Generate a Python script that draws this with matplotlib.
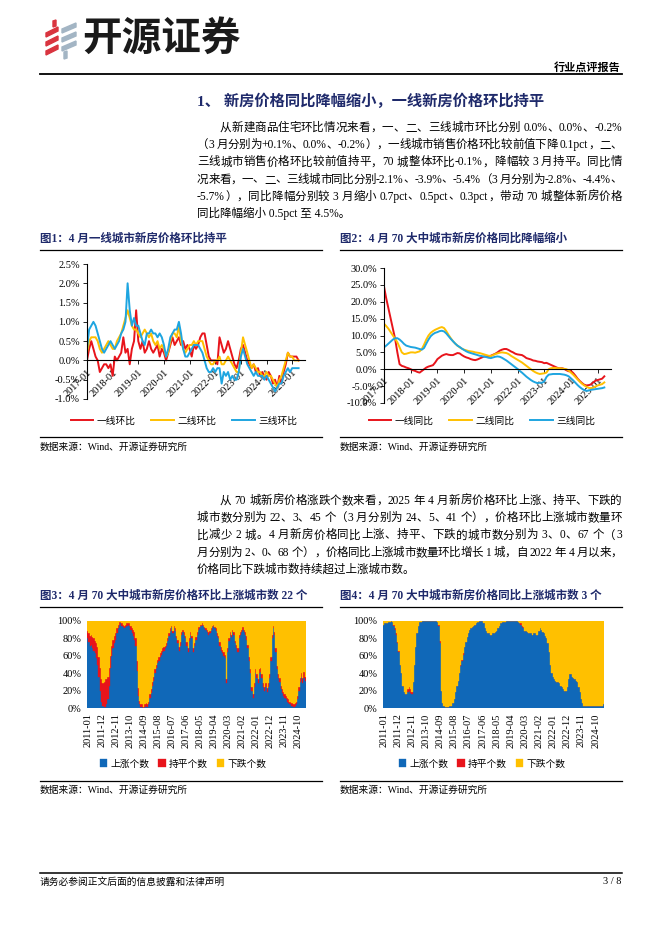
import re
import numpy as np
import matplotlib
matplotlib.use('Agg')
import matplotlib.pyplot as plt
from matplotlib.patches import Polygon, Patch
from matplotlib.lines import Line2D
from matplotlib.ticker import FuncFormatter

plt.rcParams['font.family'] = ['Liberation Serif', 'Noto Sans CJK SC']
plt.rcParams['axes.unicode_minus'] = False

W, H = 662, 936
NAVY = '#1f2a6b'
RED = '#e8141b'
GOLD = '#ffc000'
SKY = '#1ea5e0'
BLUE = '#1068b8'

# ---- chart 1: 环比 (%), 2017-01 .. 2025-04
years = ['2017-01', '2018-01', '2019-01', '2020-01', '2021-01',
         '2022-01', '2023-01', '2024-01', '2025-01']
hb_t1 = [0.0, 0.3, 0.5, 0.3, 0.1, 0.0, -0.3, -0.2, -0.1, -0.1, -0.2, -0.1,
         -0.4, 0.1, 0.0, 0.1, 0.2, 0.6, 0.2, 0.3, -0.1, 0.3, 0.5, 1.3,
         0.5, 0.3, 0.5, 0.2, 0.3, 0.5, 0.3, 0.2, 0.3, 0.4, 0.1, 0.3,
         0.2, 0.0, 0.2, 0.4, 0.6, 0.4, 0.5, 0.6, 0.4, 0.5, 0.3, 0.4,
         0.3, 0.1, 0.4, 0.3, 0.4, 0.6, 0.7, 0.7, 0.4, 0.1, 0.0, 0.0,
         0.0, -0.1, 0.6, 0.4, 0.2, 0.3, 0.5, 0.3, 0.1, -0.1, -0.2, 0.0,
         0.3, 0.4, 0.2, 0.0, -0.1, -0.2, -0.1, -0.3, -0.2, -0.4, -0.3, -0.4,
         -0.5, -0.3, -0.4, -0.6, -0.5, -0.7, -0.4, -0.6, -0.3, -0.1, 0.2, 0.1,
         0.1, 0.1, 0.1, 0.0]
hb_t2 = [0.2, 0.5, 0.6, 0.6, 0.6, 0.5, 0.3, 0.2, 0.3, 0.4, 0.5, 0.4,
         0.3, 0.3, 0.5, 0.6, 0.7, 0.9, 1.1, 1.3, 1.1, 0.9, 0.8, 0.8,
         0.7, 0.6, 0.7, 0.8, 0.7, 0.6, 0.7, 0.5, 0.4, 0.5, 0.3, 0.4,
         0.3, 0.1, 0.2, 0.5, 0.7, 0.7, 0.6, 0.9, 0.5, 0.3, 0.2, 0.3,
         0.4, 0.4, 0.5, 0.4, 0.5, 0.5, 0.5, 0.3, 0.1, 0.0, -0.1, -0.1,
         0.0, 0.0, 0.1, -0.1, -0.1, 0.0, 0.1, 0.0, -0.1, -0.2, -0.3, -0.3,
         0.2, 0.6, 0.4, 0.2, 0.0, -0.2, -0.1, -0.2, -0.3, -0.3, -0.4, -0.4,
         -0.3, -0.4, -0.4, -0.5, -0.6, -0.7, -0.5, -0.4, -0.2, 0.0, 0.2, 0.1,
         0.1, 0.0, 0.0, 0.0]
hb_t3 = [0.3, 0.8, 0.9, 1.0, 0.9, 0.7, 0.5, 0.3, 0.2, 0.3, 0.4, 0.5,
         0.4, 0.3, 0.4, 0.5, 0.7, 0.8, 1.0, 2.0, 1.3, 0.9, 1.1, 0.9,
         0.9, 0.7, 0.5, 0.4, 0.7, 0.7, 0.8, 0.7, 0.7, 0.6, 0.7, 0.6,
         0.4, 0.1, 0.3, 0.6, 0.7, 0.8, 0.8, 1.0, 0.7, 0.3, 0.1, 0.1,
         0.2, 0.3, 0.4, 0.4, 0.4, 0.3, 0.2, 0.0, -0.2, -0.3, -0.3, -0.2,
         -0.3, -0.2, -0.2, -0.6, -0.3, -0.4, -0.3, -0.5, -0.4, -0.5, -0.5, -0.3,
         0.1, 0.3, 0.1, -0.1, -0.2, -0.3, -0.4, -0.3, -0.4, -0.4, -0.4, -0.5,
         -0.4, -0.5, -0.6, -0.7, -0.8, -0.7, -0.6, -0.6, -0.4, -0.3, -0.2, -0.3,
         -0.2, -0.2, -0.2, -0.2]

# ---- chart 2: 同比 (%)
tb_t1 = [24.5, 21.0, 18.0, 15.0, 12.0, 9.0, 5.0, 1.5, 1.0, 0.8, 0.5, 0.3,
         0.0, -0.3, -0.5, -0.8, -1.0, -0.5, 0.0, 0.5, 0.8, 1.0, 1.2, 2.0,
         3.0, 3.5, 4.0, 4.3, 4.5, 4.3, 4.2, 4.2, 4.5, 4.8, 4.7, 4.2,
         3.8, 3.5, 3.3, 3.0, 2.8, 2.7, 2.9, 3.2, 3.5, 3.8, 3.8, 3.9,
         4.0, 4.3, 4.6, 5.0, 5.5, 5.8, 6.0, 6.0, 5.7, 5.3, 5.0, 4.6,
         4.4, 4.3, 4.2, 3.8, 3.3, 3.1, 2.9, 2.6, 2.5, 2.3, 2.2, 2.1,
         1.8, 1.9, 1.6, 1.3, 1.0, 0.7, 0.4, 0.3, 0.3, 0.1, -0.3, -0.6,
         -0.5, -1.1, -1.9, -2.8, -3.5, -4.1, -4.6, -4.8, -4.7, -4.5, -3.9, -3.4,
         -3.2, -3.0, -2.8, -2.1]
tb_t2 = [13.5, 12.8, 12.0, 11.0, 10.0, 9.0, 8.0, 6.5, 5.0, 4.5, 4.6, 4.8,
         5.0, 5.0, 4.9, 5.1, 5.3, 6.0, 7.3, 8.8, 10.0, 10.8, 11.3, 11.7,
         12.0, 12.3, 12.5, 12.2, 11.3, 10.2, 9.2, 8.3, 7.6, 7.0, 6.5, 6.1,
         5.8, 5.6, 5.4, 5.3, 5.2, 5.0, 4.9, 4.8, 4.6, 4.4, 4.2, 4.0,
         3.9, 4.2, 4.5, 4.7, 4.9, 5.0, 4.9, 4.8, 4.5, 4.0, 3.6, 3.2,
         2.8, 2.4, 2.0, 1.5, 1.0, 0.5, 0.0, -0.5, -0.9, -1.2, -1.4, -1.3,
         -1.2, -1.0, 0.0, 0.3, 0.4, 0.4, 0.3, 0.3, 0.2, 0.1, 0.0, -0.4,
         -1.0, -1.6, -2.3, -3.0, -3.7, -4.3, -4.8, -5.2, -5.5, -5.6, -5.5, -5.1,
         -4.8, -4.6, -4.4, -3.9]
tb_t3 = [6.5, 7.0, 7.6, 8.2, 8.8, 9.2, 9.2, 8.8, 8.2, 7.5, 7.0, 6.8,
         6.6, 6.5, 6.4, 6.2, 6.0, 5.8, 6.3, 7.6, 8.8, 9.8, 10.4, 10.8,
         11.0, 11.3, 11.4, 11.2, 10.6, 9.8, 9.0, 8.3, 7.6, 7.0, 6.6, 6.1,
         5.7, 5.3, 5.0, 4.8, 4.6, 4.4, 4.2, 4.0, 3.9, 3.7, 3.6, 3.4,
         3.3, 3.5, 3.7, 3.8, 3.7, 3.4, 3.0, 2.6, 2.1, 1.6, 1.1, 0.6,
         0.1, -0.5, -1.0, -1.6, -2.2, -2.7, -3.2, -3.6, -3.9, -4.1, -4.0, -4.0,
         -3.6, -2.3, -1.6, -1.5, -1.4, -1.4, -1.4, -1.4, -1.5, -1.6, -1.8, -2.1,
         -2.7, -3.3, -4.0, -4.7, -5.3, -5.8, -6.2, -6.4, -6.3, -6.1, -6.0, -5.9,
         -5.8, -5.7, -5.6, -5.4]

# ---- charts 3/4: city counts out of 70, 2011-01 .. 2025-04
bar_ticks = ['2011-01', '2011-12', '2012-11', '2013-10', '2014-09', '2015-08',
             '2016-07', '2017-06', '2018-05', '2019-04', '2020-03', '2021-02',
             '2022-01', '2022-12', '2023-11', '2024-10']
hb_up = [56, 53, 50, 51, 48, 46, 44, 40, 35, 25, 14, 5,
         2, 1, 1, 3, 7, 18, 32, 42, 48, 52, 55, 60,
         64, 67, 68, 66, 65, 64, 65, 66, 67, 66, 63, 60,
         58, 55, 50, 30, 10, 3, 1, 1, 0, 1, 2, 1,
         3, 8, 12, 18, 22, 28, 32, 36, 38, 41, 43, 45,
         46, 48, 50, 54, 58, 62, 65, 60, 64, 62, 56, 52,
         46, 50, 59, 61, 59, 56, 50, 45, 54, 59, 56, 45,
         50, 55, 59, 63, 64, 66, 67, 66, 64, 63, 61, 59,
         60, 63, 65, 66, 64, 62, 58, 56, 50, 46, 44, 42,
         40, 20, 45, 54, 59, 57, 61, 59, 52, 48, 45, 56,
         59, 61, 63, 61, 59, 55, 48, 38, 28, 14, 8, 17,
         28, 24, 20, 28, 29, 24, 17, 14, 17, 13, 17, 24,
         38, 56, 64, 59, 45, 31, 24, 21, 15, 12, 10, 8,
         7, 5, 4, 3, 2, 2, 1, 2, 3, 7, 14, 21,
         25, 20, 24, 22]
hb_flat = [6, 7, 8, 8, 9, 10, 10, 12, 14, 16, 18, 18,
           18, 20, 22, 20, 18, 14, 10, 8, 7, 6, 5, 4,
           3, 2, 1, 2, 2, 2, 2, 2, 1, 2, 3, 4,
           5, 6, 6, 8, 6, 3, 2, 2, 1, 2, 2, 2,
           2, 3, 3, 3, 3, 3, 3, 3, 3, 3, 3, 3,
           3, 2, 2, 2, 2, 2, 1, 2, 2, 2, 2, 3,
           3, 3, 2, 2, 2, 2, 3, 3, 2, 2, 2, 3,
           2, 2, 2, 2, 1, 1, 1, 1, 1, 1, 2, 2,
           2, 1, 1, 1, 1, 2, 2, 2, 3, 3, 3, 3,
           3, 3, 3, 2, 2, 2, 2, 2, 2, 3, 3, 3,
           2, 2, 2, 2, 2, 3, 3, 3, 3, 3, 3, 3,
           3, 3, 3, 3, 3, 3, 3, 3, 3, 3, 3, 3,
           3, 3, 2, 2, 3, 3, 3, 3, 3, 3, 3, 3,
           3, 3, 3, 2, 2, 2, 2, 2, 2, 3, 3, 3,
           3, 4, 5, 3]
tb_up = [67, 68, 68, 68, 69, 69, 70, 69, 66, 63, 59, 52,
         45, 35, 28, 18, 13, 11, 11, 13, 14, 12, 11, 21,
         35, 49, 60, 66, 69, 69, 70, 70, 70, 70, 70, 70,
         70, 70, 70, 70, 70, 70, 69, 66, 52, 14, 4, 2,
         1, 1, 1, 2, 2, 2, 4, 7, 13, 18, 22, 28,
         34, 38, 43, 49, 53, 57, 60, 63, 64, 65, 66, 67,
         68, 69, 69, 70, 70, 70, 68, 64, 62, 60, 60, 59,
         59, 60, 60, 61, 62, 64, 66, 68, 68, 69, 69, 69,
         70, 70, 70, 70, 70, 70, 70, 70, 70, 69, 68, 67,
         65, 64, 62, 62, 61, 60, 60, 60, 59, 60, 60, 59,
         59, 62, 64, 63, 61, 60, 58, 56, 52, 45, 35, 28,
         25, 23, 22, 21, 21, 20, 18, 17, 15, 14, 14, 17,
         23, 27, 27, 25, 24, 23, 22, 21, 17, 13, 7, 4,
         2, 2, 2, 2, 2, 2, 2, 2, 2, 2, 2, 2,
         2, 2, 2, 3]
tb_flat = [0, 0, 0, 0, 0, 0, 0, 0, 1, 1, 1, 1,
           1, 0, 0, 0, 0, 0, 0, 2, 3, 3, 2, 0,
           0, 0, 0, 0, 0, 0, 0, 0, 0, 0, 0, 0,
           0, 0, 0, 0, 0, 0, 0, 1, 2, 0, 0, 0,
           0, 0, 0, 0, 0, 0, 0, 0, 0, 0, 0, 0,
           1, 1, 1, 0, 0, 0, 0, 0, 0, 0, 0, 0,
           0, 0, 0, 0, 0, 0, 0, 0, 0, 0, 0, 0,
           0, 0, 0, 0, 0, 0, 0, 0, 0, 0, 0, 0,
           0, 0, 0, 0, 0, 0, 0, 0, 0, 0, 0, 1,
           1, 1, 0, 0, 0, 0, 0, 0, 0, 0, 0, 0,
           0, 0, 0, 0, 0, 0, 0, 0, 0, 0, 0, 0,
           0, 0, 0, 0, 0, 0, 0, 0, 0, 0, 0, 0,
           0, 0, 0, 0, 0, 0, 0, 0, 0, 0, 0, 0,
           0, 0, 0, 0, 0, 0, 0, 0, 0, 0, 0, 0,
           0, 0, 0, 0]
CITIES = 70

para1 = ['从新建商品住宅环比情况来看，一、二、三线城市环比分别 0.0%、0.0%、-0.2%',
         '（3 月分别为+0.1%、0.0%、-0.2%），一线城市销售价格环比较前值下降 0.1pct，二、',
         '三线城市销售价格环比较前值持平，70 城整体环比-0.1%，降幅较 3 月持平。同比情',
         '况来看，一、二、三线城市同比分别-2.1%、-3.9%、-5.4%（3 月分别为-2.8%、-4.4%、',
         '-5.7%），同比降幅分别较 3 月缩小 0.7pct、0.5pct、0.3pct，带动 70 城整体新房价格',
         '同比降幅缩小 0.5pct 至 4.5%。']
para2 = ['从 70 城新房价格涨跌个数来看，2025 年 4 月新房价格环比上涨、持平、下跌的',
         '城市数分别为 22、3、45 个（3 月分别为 24、5、41 个），价格环比上涨城市数量环',
         '比减少 2 城。4 月新房价格同比上涨、持平、下跌的城市数分别为 3、0、67 个（3',
         '月分别为 2、0、68 个），价格同比上涨城市数量环比增长 1 城，自 2022 年 4 月以来，',
         '价格同比下跌城市数持续超过上涨城市数。']

fig = plt.figure(figsize=(W / 100, H / 100), dpi=100)
renderer = fig.canvas.get_renderer()


def fx(x):
    return x / W


def fy(y):
    return 1 - y / H


def box(x0, y0, x1, y1):
    return [fx(x0), fy(y1), (x1 - x0) / W, (y1 - y0) / H]


def hline(x0, x1, y, lw=0.9):
    fig.add_artist(Line2D([fx(x0), fx(x1)], [fy(y), fy(y)], color='black',
                          lw=lw, transform=fig.transFigure))


CJK = '[\u3000-\u303f\u4e00-\u9fff\uff00-\uffef]'
TOK = re.compile(CJK + '|[^ \u3000-\u303f\u4e00-\u9fff\uff00-\uffef]+| ')


def text_line(s, x0, y, x1=None, size=8.3, **kw):
    # y is the baseline; x1 given -> justified to x1
    if x1 is None:
        fig.text(fx(x0), fy(y), s, fontsize=size, va='baseline', **kw)
        return
    toks = TOK.findall(s)
    ws = []
    for t in toks:
        if t == ' ':
            ws.append(size * 100 / 72 * 0.25)
            continue
        tt = fig.text(0, 0, t, fontsize=size, **kw)
        ws.append(tt.get_window_extent(renderer).width)
        tt.remove()
    gap = (x1 - x0 - sum(ws)) / (len(toks) - 1)
    x = x0
    for t, w in zip(toks, ws):
        if t != ' ':
            fig.text(fx(x), fy(y), t, fontsize=size, va='baseline', **kw)
        x += w + gap


def paragraph(lines, x0, x1, y0, step, indent=23):
    for i, s in enumerate(lines):
        left = x0 + indent if i == 0 else x0
        right = x1 if i < len(lines) - 1 else None
        text_line(s, left, y0 + i * step, right)


# ---- header
for pts, c in [([(46, 33), (58, 27), (58, 31), (46, 37)], '#d9343f'),
               ([(46, 42), (58, 36), (58, 40), (46, 46)], '#d9343f'),
               ([(46, 51), (58, 45), (58, 49), (46, 55)], '#d9343f'),
               ([(53, 21), (56, 20), (56, 26), (53, 27)], '#d9343f'),
               ([(62, 29), (76, 23), (76, 27), (62, 33)], '#a3b5c4'),
               ([(62, 38), (76, 32), (76, 36), (62, 42)], '#a3b5c4'),
               ([(62, 47), (76, 41), (76, 45), (62, 51)], '#a3b5c4'),
               ([(64, 52), (67, 51), (67, 58), (64, 59)], '#a3b5c4')]:
    fig.add_artist(Polygon([(fx(a), fy(b)) for a, b in pts], closed=True,
                           color=c, transform=fig.transFigure))
fig.text(fx(82), fy(40), '开源证券', fontsize=28.5, weight='bold',
         color='#1a1a1a', va='center', ha='left')
fig.text(fx(621), fy(67), '行业点评报告', fontsize=8, weight='bold',
         ha='right', va='center')
hline(40, 622, 74, lw=1.3)

fig.text(fx(197), fy(101), '1、 新房价格同比降幅缩小，一线新房价格环比持平',
         fontsize=11, weight='bold', color=NAVY, va='center')
paragraph(para1, 197, 622, 131, 17.2)


# ---- chart helpers
def chart_frame(x0, x1, title, y_title, y_rule, y_src_rule, y_src):
    fig.text(fx(x0), fy(y_title), title, fontsize=8.3, weight='bold',
             color=NAVY, va='center')
    hline(x0, x1, y_rule)
    hline(x0, x1, y_src_rule)
    fig.text(fx(x0), fy(y_src), '数据来源：Wind、开源证券研究所', fontsize=7,
             va='center')


def line_chart(rect, series, colors, labels, ylim, ystep, fmt, leg_cx):
    ax = fig.add_axes(box(*rect))
    x = np.arange(len(series[0]))
    for s, c, l in zip(series, colors, labels):
        ax.plot(x, s, color=c, lw=1.4, label=l)
    ax.set_xlim(0, 102)
    ax.set_ylim(*ylim)
    ax.set_yticks(np.arange(ylim[0], ylim[1] + ystep / 2, ystep))
    ax.yaxis.set_major_formatter(FuncFormatter(lambda v, p: fmt.format(v)))
    for sp in ['top', 'right']:
        ax.spines[sp].set_visible(False)
    ax.spines['bottom'].set_position(('data', 0))
    for sp in ['left', 'bottom']:
        ax.spines[sp].set_linewidth(0.8)
    ax.set_xticks(range(0, 97, 12))
    ax.set_xticklabels(years, rotation=45, ha='right', rotation_mode='anchor')
    ax.tick_params(labelsize=7.5, length=3, width=0.6, pad=2)
    ax.patch.set_alpha(0)
    ax.legend(loc='center', bbox_to_anchor=(fx(leg_cx), fy(421)),
              bbox_transform=fig.transFigure, ncol=3, frameon=False,
              fontsize=7, handlelength=2.3, handletextpad=0.4,
              columnspacing=1.6)
    return ax


def bar_chart(rect, up, flat, leg_cx):
    ax = fig.add_axes(box(*rect))
    up = np.array(up, dtype=float)
    flat = np.array(flat, dtype=float)
    down = CITIES - up - flat
    total = up + flat + down
    p_up, p_flat, p_down = up / total * 100, flat / total * 100, down / total * 100
    x = np.arange(len(up))
    kw = dict(width=1.0, lw=0.25)
    ax.bar(x, p_up, color=BLUE, ec=BLUE, label='上涨个数', **kw)
    ax.bar(x, p_flat, bottom=p_up, color=RED, ec=RED, label='持平个数', **kw)
    ax.bar(x, p_down, bottom=p_up + p_flat, color=GOLD, ec=GOLD,
           label='下跌个数', **kw)
    ax.set_xlim(-0.5, len(up) - 0.5)
    ax.set_ylim(0, 100)
    ax.set_yticks(range(0, 101, 20))
    ax.set_yticklabels([f'{v}%' for v in range(0, 101, 20)])
    for sp in ax.spines.values():
        sp.set_visible(False)
    ax.set_xticks(range(0, len(up), 11))
    ax.set_xticklabels(bar_ticks, rotation=90, ha='center', va='top')
    ax.tick_params(labelsize=7.5, length=0, pad=4)
    ax.legend(loc='center', bbox_to_anchor=(fx(leg_cx), fy(764)),
              bbox_transform=fig.transFigure, ncol=3, frameon=False,
              fontsize=7, handlelength=0.8, handleheight=0.8,
              handletextpad=0.3, columnspacing=0.9)
    return ax


chart_frame(40, 322, '图1：4 月一线城市新房价格环比持平', 239, 250, 437, 447)
chart_frame(340, 622, '图2：4 月 70 大中城市新房价格同比降幅缩小', 239, 250, 437, 447)
line_chart((87, 264, 305, 399), [hb_t1, hb_t2, hb_t3], [RED, GOLD, SKY],
           ['一线环比', '二线环比', '三线环比'], (-1.0, 2.5), 0.5, '{:.1f}%', 184)
line_chart((384, 268, 611, 403), [tb_t1, tb_t2, tb_t3], [RED, GOLD, SKY],
           ['一线同比', '二线同比', '三线同比'], (-10, 30), 5, '{:.1f}%', 482)

paragraph(para2, 197, 622, 504, 17.2)

chart_frame(40, 322, '图3：4 月 70 大中城市新房价格环比上涨城市数 22 个', 596, 607, 781, 790)
chart_frame(340, 622, '图4：4 月 70 大中城市新房价格同比上涨城市数 3 个', 596, 607, 781, 790)
bar_chart((87, 621, 306, 708), hb_up, hb_flat, 183)
bar_chart((383, 621, 604, 708), tb_up, tb_flat, 482)

# ---- footer
hline(40, 622, 873, lw=1.1)
fig.text(fx(40), fy(882), '请务必参阅正文后面的信息披露和法律声明', fontsize=7,
         va='center')
fig.text(fx(621), fy(882), '3 / 8', fontsize=7.5, va='center', ha='right')

fig.savefig('out.png', dpi=100)
